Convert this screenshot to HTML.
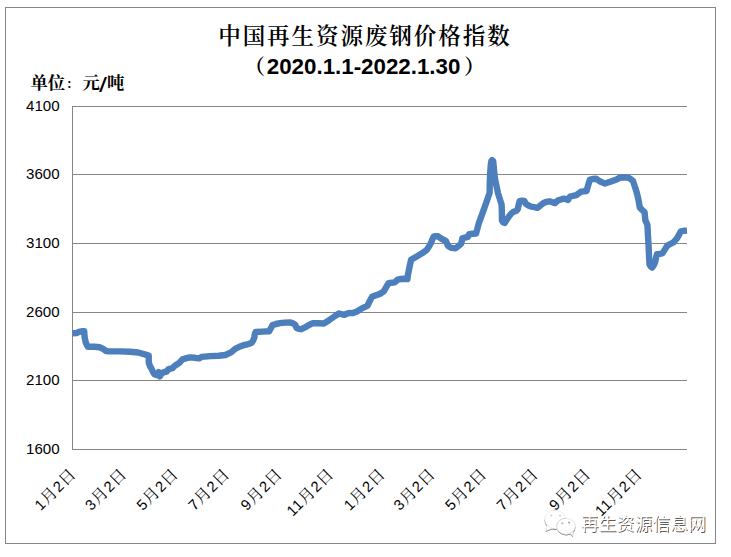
<!DOCTYPE html>
<html lang="zh-CN">
<head>
<meta charset="utf-8">
<title>中国再生资源废钢价格指数</title>
<style>
html,body{margin:0;padding:0;background:#fff;}
body{width:731px;height:557px;overflow:hidden;}
svg{display:block;}
.serif{font-family:"Liberation Serif","Noto Serif CJK SC",serif;}
.cjkserif{font-family:"Liberation Serif","Noto Serif CJK SC",serif;}
.sans{font-family:"Liberation Sans","Noto Sans CJK SC",sans-serif;}
</style>
</head>
<body>
<svg width="731" height="557" viewBox="0 0 731 557">
<rect x="0" y="0" width="731" height="557" fill="#ffffff"/>
<rect x="5.5" y="7.5" width="710" height="536" fill="#ffffff" stroke="#868686" stroke-width="1"/>

<line x1="72" y1="106.5" x2="687" y2="106.5" stroke="#868686" stroke-width="1"/>
<line x1="72" y1="174.5" x2="687" y2="174.5" stroke="#868686" stroke-width="1"/>
<line x1="72" y1="243.5" x2="687" y2="243.5" stroke="#868686" stroke-width="1"/>
<line x1="72" y1="312.5" x2="687" y2="312.5" stroke="#868686" stroke-width="1"/>
<line x1="72" y1="380.5" x2="687" y2="380.5" stroke="#868686" stroke-width="1"/>
<line x1="72" y1="449.5" x2="687" y2="449.5" stroke="#868686" stroke-width="1"/>
<line x1="72.5" y1="106" x2="72.5" y2="450" stroke="#868686" stroke-width="1"/>
<text class="sans" x="59.6" y="111.0" font-size="14.8" text-anchor="end" textLength="33.6" lengthAdjust="spacingAndGlyphs" fill="#000">4100</text>
<text class="sans" x="59.6" y="179.0" font-size="14.8" text-anchor="end" textLength="33.6" lengthAdjust="spacingAndGlyphs" fill="#000">3600</text>
<text class="sans" x="59.6" y="248.0" font-size="14.8" text-anchor="end" textLength="33.6" lengthAdjust="spacingAndGlyphs" fill="#000">3100</text>
<text class="sans" x="59.6" y="317.0" font-size="14.8" text-anchor="end" textLength="33.6" lengthAdjust="spacingAndGlyphs" fill="#000">2600</text>
<text class="sans" x="59.6" y="385.0" font-size="14.8" text-anchor="end" textLength="33.6" lengthAdjust="spacingAndGlyphs" fill="#000">2100</text>
<text class="sans" x="59.6" y="454.0" font-size="14.8" text-anchor="end" textLength="33.6" lengthAdjust="spacingAndGlyphs" fill="#000">1600</text>
<text class="cjkserif" x="218.2" y="44" font-size="22.5" font-weight="600" letter-spacing="1.95" fill="#000">中国再生资源废钢价格指数</text>
<text class="cjkserif" x="244" y="74" font-size="21" font-weight="700" fill="#000">（</text>
<text class="sans" x="266.8" y="73.8" font-size="22" font-weight="700" textLength="193.6" lengthAdjust="spacingAndGlyphs" fill="#000">2020.1.1-2022.1.30</text>
<text class="cjkserif" x="464" y="74" font-size="21" font-weight="700" fill="#000">）</text>
<text class="cjkserif" x="30.5" y="89.3" font-size="17.33" font-weight="700" fill="#000">单位</text>
<text class="cjkserif" x="66.2" y="88.4" font-size="11.5" font-weight="700" fill="#000">：</text>
<text class="cjkserif" x="82.5" y="89.3" font-size="17.33" font-weight="700" fill="#000">元</text>
<text class="sans" x="98.9" y="92.2" font-size="20.5" font-weight="400" textLength="8" lengthAdjust="spacingAndGlyphs" fill="#000">/</text>
<text class="cjkserif" x="107" y="89.3" font-size="17.33" font-weight="700" fill="#000">吨</text>
<path d="M72.5,333.2 L76.6,333.0 L79.0,331.9 L81.5,331.3 L84.2,331.3 L84.6,337.0 L85.6,342.0 L86.8,345.0 L87.8,346.7 L94.6,346.8 L99.6,347.3 L102.8,348.7 L106.1,351.0 L109.4,351.4 L120.0,351.4 L130.0,351.7 L138.2,352.5 L144.8,354.4 L148.7,355.6 L148.8,363.0 L150.2,366.5 L151.5,368.7 L153.0,372.0 L154.6,374.3 L157.1,375.1 L158.7,372.0 L159.8,376.5 L161.5,373.4 L164.5,372.0 L166.5,371.6 L168.6,369.1 L172.7,368.1 L174.0,366.5 L176.0,365.0 L179.3,362.8 L182.5,359.3 L186.6,358.2 L190.0,357.4 L194.9,357.8 L199.0,358.4 L201.5,356.9 L210.5,356.1 L218.7,355.8 L225.3,355.0 L231.0,352.4 L236.0,348.3 L239.3,346.8 L244.2,345.0 L247.5,344.3 L250.0,343.4 L251.5,343.0 L253.0,340.8 L254.4,337.4 L254.9,333.5 L255.6,332.0 L262.0,331.6 L269.2,331.3 L271.0,328.0 L272.6,325.1 L276.0,324.0 L280.1,323.1 L285.0,322.6 L289.7,322.4 L292.5,323.2 L295.1,324.5 L296.5,327.9 L298.8,328.8 L301.3,329.2 L305.0,327.4 L308.8,325.1 L312.9,323.1 L318.0,323.2 L323.9,323.5 L327.5,321.3 L330.7,319.0 L335.0,316.0 L338.9,313.5 L341.5,314.2 L344.4,314.9 L347.0,313.6 L350.0,312.9 L353.0,313.1 L356.4,311.8 L359.0,310.2 L361.9,308.4 L364.5,307.2 L367.4,305.7 L369.5,301.5 L372.1,296.8 L376.0,295.3 L379.7,294.0 L383.8,291.3 L386.2,287.2 L388.6,283.1 L391.5,282.7 L394.7,282.4 L397.5,279.7 L401.0,279.0 L404.3,278.7 L407.4,279.0 L407.9,275.0 L408.6,271.5 L409.8,265.5 L411.1,259.8 L414.5,257.7 L418.0,255.7 L422.0,253.3 L426.5,250.2 L429.0,246.5 L430.9,243.1 L432.3,239.5 L433.7,236.6 L435.7,236.1 L437.8,236.3 L439.8,237.6 L441.9,239.0 L444.0,240.0 L446.0,241.0 L447.0,243.4 L448.0,245.8 L449.7,247.0 L451.5,247.9 L453.5,248.1 L455.6,248.2 L458.3,246.2 L461.0,243.8 L461.8,241.0 L462.4,238.3 L465.0,237.5 L467.9,236.9 L468.6,235.4 L469.2,234.2 L472.5,233.8 L476.1,233.5 L477.4,228.5 L478.8,223.3 L481.5,215.8 L484.3,208.2 L487.0,200.5 L489.6,193.0 L489.8,182.0 L490.2,172.4 L490.8,165.0 L491.4,161.0 L492.1,160.2 L493.2,161.2 L494.0,170.0 L495.0,179.0 L498.0,193.1 L501.6,204.6 L501.9,213.0 L501.9,220.5 L503.2,222.3 L504.6,223.0 L506.7,219.8 L508.9,216.5 L511.5,213.3 L513.5,211.8 L516.0,210.9 L517.6,209.6 L518.5,205.8 L519.6,201.2 L522.0,200.7 L524.3,200.9 L525.1,202.6 L526.0,204.0 L528.5,205.5 L531.1,206.6 L534.3,207.2 L537.3,207.8 L540.3,205.6 L543.6,203.0 L546.5,201.8 L549.6,201.3 L552.3,202.2 L555.0,203.1 L556.4,201.8 L557.8,200.6 L560.8,199.5 L563.9,198.6 L566.0,199.2 L568.0,199.9 L569.0,198.1 L570.1,196.5 L573.2,195.8 L576.3,195.1 L578.7,193.4 L581.0,191.7 L583.8,191.3 L586.5,191.0 L588.2,185.2 L589.9,179.6 L593.0,179.0 L596.1,178.8 L598.1,180.1 L600.2,181.5 L602.6,182.6 L605.0,183.5 L611.0,181.5 L616.6,179.4 L618.7,178.3 L620.7,177.5 L624.0,177.4 L627.8,177.5 L630.5,178.9 L633.0,181.0 L635.0,187.0 L637.1,193.8 L638.5,200.0 L639.8,207.5 L642.2,210.0 L644.6,212.3 L645.0,216.5 L645.4,220.5 L646.4,222.6 L647.4,224.8 L648.0,236.0 L648.7,247.9 L649.0,256.0 L649.5,264.3 L650.7,266.5 L652.1,267.6 L653.6,265.5 L654.9,262.9 L655.9,258.5 L656.9,254.2 L659.6,253.8 L662.4,253.4 L664.8,249.6 L667.2,245.8 L670.3,244.0 L673.4,242.4 L675.5,240.0 L677.5,237.6 L679.2,234.4 L680.9,231.4 L683.8,230.8 L687.0,230.6" fill="none" stroke="#4c7fbc" stroke-width="6.4" stroke-linejoin="round" stroke-linecap="butt"/>
<text transform="translate(77.2,474.8) rotate(-45)" text-anchor="end" font-size="16" letter-spacing="0.8" fill="#000"><tspan class="sans" font-size="14.8">1</tspan><tspan class="cjkserif">月</tspan><tspan class="sans" font-size="14.8">2</tspan><tspan class="cjkserif">日</tspan></text>
<text transform="translate(127.9,474.8) rotate(-45)" text-anchor="end" font-size="16" letter-spacing="0.8" fill="#000"><tspan class="sans" font-size="14.8">3</tspan><tspan class="cjkserif">月</tspan><tspan class="sans" font-size="14.8">2</tspan><tspan class="cjkserif">日</tspan></text>
<text transform="translate(179.4,474.8) rotate(-45)" text-anchor="end" font-size="16" letter-spacing="0.8" fill="#000"><tspan class="sans" font-size="14.8">5</tspan><tspan class="cjkserif">月</tspan><tspan class="sans" font-size="14.8">2</tspan><tspan class="cjkserif">日</tspan></text>
<text transform="translate(231.0,474.8) rotate(-45)" text-anchor="end" font-size="16" letter-spacing="0.8" fill="#000"><tspan class="sans" font-size="14.8">7</tspan><tspan class="cjkserif">月</tspan><tspan class="sans" font-size="14.8">2</tspan><tspan class="cjkserif">日</tspan></text>
<text transform="translate(283.4,474.8) rotate(-45)" text-anchor="end" font-size="16" letter-spacing="0.8" fill="#000"><tspan class="sans" font-size="14.8">9</tspan><tspan class="cjkserif">月</tspan><tspan class="sans" font-size="14.8">2</tspan><tspan class="cjkserif">日</tspan></text>
<text transform="translate(334.9,474.8) rotate(-45)" text-anchor="end" font-size="16" letter-spacing="0.8" fill="#000"><tspan class="sans" font-size="14.8">11</tspan><tspan class="cjkserif">月</tspan><tspan class="sans" font-size="14.8">2</tspan><tspan class="cjkserif">日</tspan></text>
<text transform="translate(386.5,474.8) rotate(-45)" text-anchor="end" font-size="16" letter-spacing="0.8" fill="#000"><tspan class="sans" font-size="14.8">1</tspan><tspan class="cjkserif">月</tspan><tspan class="sans" font-size="14.8">2</tspan><tspan class="cjkserif">日</tspan></text>
<text transform="translate(436.3,474.8) rotate(-45)" text-anchor="end" font-size="16" letter-spacing="0.8" fill="#000"><tspan class="sans" font-size="14.8">3</tspan><tspan class="cjkserif">月</tspan><tspan class="sans" font-size="14.8">2</tspan><tspan class="cjkserif">日</tspan></text>
<text transform="translate(487.9,474.8) rotate(-45)" text-anchor="end" font-size="16" letter-spacing="0.8" fill="#000"><tspan class="sans" font-size="14.8">5</tspan><tspan class="cjkserif">月</tspan><tspan class="sans" font-size="14.8">2</tspan><tspan class="cjkserif">日</tspan></text>
<text transform="translate(539.4,474.8) rotate(-45)" text-anchor="end" font-size="16" letter-spacing="0.8" fill="#000"><tspan class="sans" font-size="14.8">7</tspan><tspan class="cjkserif">月</tspan><tspan class="sans" font-size="14.8">2</tspan><tspan class="cjkserif">日</tspan></text>
<text transform="translate(591.8,474.8) rotate(-45)" text-anchor="end" font-size="16" letter-spacing="0.8" fill="#000"><tspan class="sans" font-size="14.8">9</tspan><tspan class="cjkserif">月</tspan><tspan class="sans" font-size="14.8">2</tspan><tspan class="cjkserif">日</tspan></text>
<text transform="translate(643.3,474.8) rotate(-45)" text-anchor="end" font-size="16" letter-spacing="0.8" fill="#000"><tspan class="sans" font-size="14.8">11</tspan><tspan class="cjkserif">月</tspan><tspan class="sans" font-size="14.8">2</tspan><tspan class="cjkserif">日</tspan></text>
<defs>
<filter id="sb" x="-10%" y="-20%" width="120%" height="140%"><feGaussianBlur stdDeviation="0.35"/></filter>
<g id="wx">
<ellipse cx="555.3" cy="519.6" rx="10.6" ry="9.3"/>
<path d="M547.2,525.5 L545.8,531 L552.5,528.2 Z"/>
</g>
<g id="wx2">
<ellipse cx="566" cy="526.4" rx="9.3" ry="8"/>
<path d="M569.5,533.2 L572.8,536.2 L573,531.3 Z"/>
</g>
</defs>
<g id="wm">
<use href="#wx" fill="#6a6a6a" transform="translate(-0.2,1.0)" filter="url(#sb)"/>
<use href="#wx" fill="#ffffff" stroke="#e4e4e4" stroke-width="0.6"/>
<circle cx="551.4" cy="515.6" r="1" fill="#c9c9c9"/><circle cx="560" cy="515.6" r="1" fill="#c9c9c9"/>
<use href="#wx2" fill="#6a6a6a" transform="translate(0.2,1.0)" filter="url(#sb)"/>
<path d="M556.9,526 A9.3,8 0 0 1 566,518.4" fill="none" stroke="#8a8a8a" stroke-width="0.8"/>
<use href="#wx2" fill="#ffffff" stroke="#dddddd" stroke-width="0.7"/>
<circle cx="562.4" cy="523.4" r="1.1" fill="#bdbdbd"/><circle cx="569.2" cy="522.6" r="1.1" fill="#a8a8a8"/>
<text class="sans" x="580.9" y="529.7" font-size="17.6" textLength="125" lengthAdjust="spacing" fill="#5c5c5c" filter="url(#sb)" transform="translate(0.9,0.9)">再生资源信息网</text>
<text class="sans" x="580.9" y="529.7" font-size="17.6" textLength="125" lengthAdjust="spacing" fill="#ffffff">再生资源信息网</text>
</g>
</svg>
</body>
</html>
